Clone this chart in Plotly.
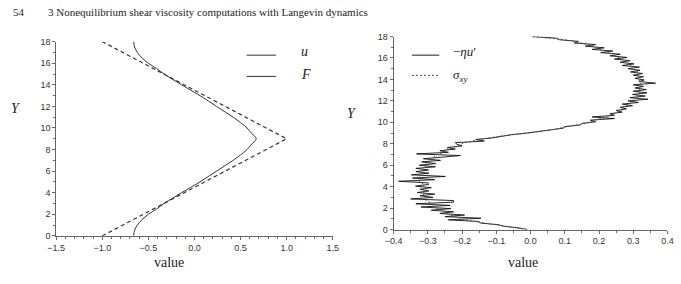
import plotly.graph_objects as go

W, H = 681, 284

# ---------------- Left panel data ----------------
Y_u = [0, 0.5, 1, 1.5, 2, 2.5, 3, 3.5, 4, 4.5, 5, 5.5, 6, 6.5, 7, 7.5, 8, 8.5, 9,
       9.5, 10, 10.5, 11, 11.5, 12, 12.5, 13, 13.5, 14, 14.5, 15, 15.5, 16, 16.5, 17, 17.5, 18]
u_vals = [-0.66, -0.65, -0.62, -0.57, -0.50, -0.41, -0.33, -0.235, -0.14, -0.04, 0.06, 0.15,
          0.24, 0.33, 0.42, 0.50, 0.57, 0.62, 0.67,
          0.62, 0.57, 0.50, 0.42, 0.33, 0.24, 0.15, 0.06, -0.04, -0.14, -0.235, -0.33, -0.41,
          -0.50, -0.57, -0.62, -0.65, -0.66]
Y_F = [0, 9, 18]
F_vals = [-1.0, 1.0, -1.0]

left_xticks = [-1.5, -1.0, -0.5, 0.0, 0.5, 1.0, 1.5]
left_yticks = [0, 2, 4, 6, 8, 10, 12, 14, 16, 18]

# ---------------- Right panel data ----------------
Y_eta = [round(0.15 * i, 2) for i in range(121)]
eta_vals = [
    -0.010, -0.035, -0.078, -0.095, -0.145, -0.153, -0.240, -0.145, -0.250, -0.193,
    -0.265, -0.225, -0.290, -0.233, -0.320, -0.235, -0.335, -0.225, -0.225, -0.350,
    -0.285, -0.323, -0.280, -0.331, -0.297, -0.323, -0.290, -0.336, -0.298, -0.300,
    -0.385, -0.280, -0.345, -0.249, -0.348, -0.297, -0.335, -0.298, -0.335, -0.278,
    -0.325, -0.277, -0.318, -0.263, -0.313, -0.262, -0.205, -0.333, -0.240, -0.265,
    -0.220, -0.243, -0.200, -0.215, -0.220, -0.135, -0.160, -0.110, -0.080, -0.055,
    -0.010, 0.030, 0.055, 0.095, 0.100, 0.145, 0.150, 0.190, 0.175, 0.245,
    0.180, 0.245, 0.232, 0.268, 0.250, 0.280, 0.262, 0.298, 0.268, 0.315,
    0.285, 0.343, 0.290, 0.335, 0.298, 0.340, 0.300, 0.338, 0.305, 0.330,
    0.300, 0.365, 0.318, 0.332, 0.305, 0.330, 0.300, 0.327, 0.292, 0.320,
    0.285, 0.318, 0.268, 0.302, 0.262, 0.290, 0.245, 0.282, 0.232, 0.262,
    0.205, 0.240, 0.180, 0.215, 0.160, 0.190, 0.128, 0.140, 0.085, 0.075,
    0.005]
Y_sig = [round(0.3 * i, 1) for i in range(61)]
sig_vals = [
    -0.010, -0.075, -0.130, -0.195, -0.215, -0.250, -0.260, -0.285, -0.285, -0.305,
    -0.300, -0.315, -0.308, -0.320, -0.312, -0.325, -0.316, -0.322, -0.310, -0.315,
    -0.300, -0.302, -0.283, -0.280, -0.255, -0.245, -0.210, -0.195, -0.148, -0.092,
    -0.008, 0.062, 0.108, 0.163, 0.187, 0.225, 0.242, 0.265, 0.268, 0.290,
    0.297, 0.314, 0.310, 0.322, 0.316, 0.325, 0.317, 0.322, 0.311, 0.314,
    0.296, 0.293, 0.276, 0.268, 0.246, 0.233, 0.202, 0.183, 0.148, 0.102,
    0.005]

right_xticks = [-0.4, -0.3, -0.2, -0.1, 0.0, 0.1, 0.2, 0.3, 0.4]
right_yticks = [0, 2, 4, 6, 8, 10, 12, 14, 16, 18]


def px(x):
    return x / W


def py(y):
    return 1 - y / H


fig = go.Figure()
fig.add_trace(go.Scatter(x=u_vals, y=Y_u, mode='lines', xaxis='x', yaxis='y',
                         line=dict(color='#333333', width=1, shape='spline')))
fig.add_trace(go.Scatter(x=F_vals, y=Y_F, mode='lines', xaxis='x', yaxis='y',
                         line=dict(color='#333333', width=1.2, dash='4px,3px')))
fig.add_trace(go.Scatter(x=eta_vals, y=Y_eta, mode='lines', xaxis='x2', yaxis='y2',
                         line=dict(color='#111111', width=0.9)))
fig.add_trace(go.Scatter(x=sig_vals, y=Y_sig, mode='lines', xaxis='x2', yaxis='y2',
                         line=dict(color='#555555', width=1, dash='2px,2px')))

tickfont = dict(family='Liberation Sans, Arial, sans-serif', size=9, color='#333333')
common = dict(showline=True, linecolor='#666666', linewidth=1, ticks='outside',
              ticklen=3, tickcolor='#666666', tickwidth=1, showgrid=False,
              zeroline=False, tickfont=tickfont, fixedrange=True)

fig.update_layout(
    width=W, height=H, autosize=False,
    margin=dict(l=0, r=0, t=0, b=0),
    paper_bgcolor='white', plot_bgcolor='white', showlegend=False,
    xaxis=dict(domain=[px(48.3), px(331)], range=[-1.5, 1.5], anchor='y',
               tickvals=left_xticks, tickformat='.1f',
               minor=dict(dtick=0.1, ticks='outside', ticklen=2, tickcolor='#666666'),
               **common),
    yaxis=dict(domain=[py(239.3), py(38)], range=[0, 18], anchor='x',
               tickvals=left_yticks,
               minor=dict(dtick=1, ticks='outside', ticklen=2, tickcolor='#666666'),
               **common),
    xaxis2=dict(domain=[px(393.3), px(673.3)], range=[-0.4, 0.4], anchor='y2',
                tickvals=right_xticks, tickformat='.1f',
                minor=dict(dtick=0.05, ticks='outside', ticklen=2, tickcolor='#666666'),
                **common),
    yaxis2=dict(domain=[py(232.7), py(32.7)], range=[0, 18], anchor='x2',
                tickvals=right_yticks,
                minor=dict(dtick=1, ticks='outside', ticklen=2, tickcolor='#666666'),
                **common),
)

serif = 'Liberation Serif, Times New Roman, serif'
ann = []


def text(x, y, s, size, xanchor='center', color='#222222'):
    ann.append(dict(x=px(x), y=py(y), xref='paper', yref='paper', text=s,
                    showarrow=False, xanchor=xanchor, yanchor='middle',
                    font=dict(family=serif, size=size, color=color)))


text(2, 7, '54', 11, 'left')
text(38, 7, '3 Nonequilibrium shear viscosity computations with Langevin dynamics', 11, 'left')
text(7, 107, '<i>Y</i>', 14)
text(351, 112, '<i>Y</i>', 14)
text(164, 267, 'value', 14)
text(526, 267, 'value', 14)
text(297, 48, '<i>u</i>', 14, 'left')
text(297, 72, '<i>F</i>', 14, 'left')
text(452, 48, '−<i>ηu</i>′', 13, 'left')
text(452, 73, '<i>σ</i><sub><i>xy</i></sub>', 13, 'left')
fig.update_layout(annotations=ann)

shapes = [
    dict(type='line', xref='paper', yref='paper', x0=px(243), x1=px(273), y0=py(52), y1=py(52),
         line=dict(color='#333333', width=1)),
    dict(type='line', xref='paper', yref='paper', x0=px(243), x1=px(273), y0=py(74), y1=py(74),
         line=dict(color='#333333', width=1)),
    dict(type='line', xref='paper', yref='paper', x0=px(412), x1=px(440), y0=py(52), y1=py(52),
         line=dict(color='#222222', width=1)),
    dict(type='line', xref='paper', yref='paper', x0=px(412), x1=px(440), y0=py(73), y1=py(73),
         line=dict(color='#444444', width=1, dash='2px,2px')),
]
fig.update_layout(shapes=shapes)

fig.write_html('out.html')
